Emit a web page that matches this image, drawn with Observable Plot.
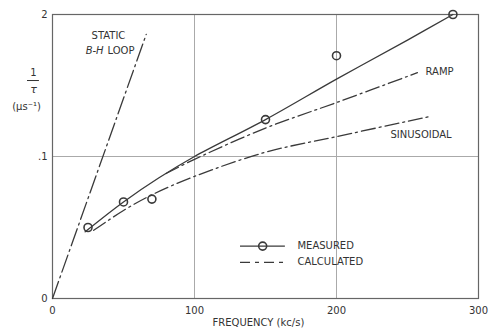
<!DOCTYPE html>
<html>
<head>
<meta charset="utf-8">
<script src="https://cdn.jsdelivr.net/npm/d3@7"></script>
<script src="https://cdn.jsdelivr.net/npm/@observablehq/plot@0.6"></script>
<style>
  html, body { margin: 0; padding: 0; background: #fff; }
  #chart svg { display: block; }
</style>
</head>
<body>
<div id="chart"></div>
<script>
// Measured points (frequency kc/s, 1/tau in µs^-1)
const measuredFreq = [25, 50, 70, 150, 200, 282];
const measuredVal  = [0.050, 0.068, 0.070, 0.126, 0.171, 0.200];

// Smooth curve drawn through measured points
const fitFreq = [23, 50, 75, 100, 150, 200, 250, 282];
const fitVal  = [0.047, 0.068, 0.085, 0.100, 0.126, 0.1545, 0.182, 0.200];

// Calculated: ramp
const rampFreq = [80, 100, 150, 200, 257];
const rampVal  = [0.088, 0.098, 0.120, 0.138, 0.159];

// Calculated: sinusoidal
const sinFreq = [29, 50, 70, 100, 150, 200, 265];
const sinVal  = [0.048, 0.062, 0.073, 0.086, 0.103, 0.114, 0.128];

// Calculated: static B-H loop
const staticFreq = [0, 66];
const staticVal  = [0, 0.186];

// Ticks
const xTicks = [0, 100, 200, 300];
const xTickLabels = ["0", "100", "200", "300"];
const yTicks = [0, 0.1, 0.2];
const yTickLabels = ["0", ".1", "2"];

const toPts = (xs, ys) => xs.map((x, i) => ({x, y: ys[i]}));
const measured = toPts(measuredFreq, measuredVal);
const fit = toPts(fitFreq, fitVal);
const ramp = toPts(rampFreq, rampVal);
const sinus = toPts(sinFreq, sinVal);
const stat = toPts(staticFreq, staticVal);

const ink = "#3a3a3a";
const dashDot = "14,4,2,4";
const font = "DejaVu Sans, sans-serif";

const chart = Plot.plot({
  width: 491,
  height: 331,
  marginLeft: 52,
  marginRight: 13,
  marginTop: 14,
  marginBottom: 33,
  style: {fontFamily: font, fontSize: "10px", color: "#333", background: "#fff", overflow: "visible"},
  x: {domain: [0, 300]},
  y: {domain: [0, 0.2]},
  marks: [
    Plot.gridX([100, 200], {stroke: "#aaa", strokeOpacity: 1, strokeWidth: 1}),
    Plot.gridY([0.1], {stroke: "#aaa", strokeOpacity: 1, strokeWidth: 1}),
    Plot.frame({stroke: "#666", strokeWidth: 1.2}),
    Plot.axisX({ticks: xTicks, tickSize: 0, tickPadding: 8, tickFormat: (d) => xTickLabels[xTicks.indexOf(d)], label: null, fontSize: 10}),
    Plot.axisY({ticks: yTicks, tickSize: 0, tickPadding: 5, tickFormat: (d) => yTickLabels[yTicks.indexOf(d)], label: null, fontSize: 10}),
    // measured
    Plot.line(fit, {x: "x", y: "y", stroke: ink, strokeWidth: 1.3, curve: "catmull-rom"}),
    Plot.dot(measured, {x: "x", y: "y", r: 4, stroke: ink, strokeWidth: 1.6, fill: "none"}),
    // calculated
    Plot.line(ramp, {x: "x", y: "y", stroke: ink, strokeWidth: 1.3, strokeDasharray: dashDot, curve: "catmull-rom"}),
    Plot.line(sinus, {x: "x", y: "y", stroke: ink, strokeWidth: 1.3, strokeDasharray: dashDot, curve: "catmull-rom"}),
    Plot.line(stat, {x: "x", y: "y", stroke: ink, strokeWidth: 1.3, strokeDasharray: "18,4,2,4"}),
    // curve labels
    Plot.text(["STATIC"], {x: 39.4, y: 0.185, text: (d) => d, textAnchor: "middle", fill: "#333"}),
    Plot.text(["B-H"], {x: 36, y: 0.1745, text: (d) => d, textAnchor: "end", fontStyle: "italic", fill: "#333"}),
    Plot.text(["LOOP"], {x: 38.7, y: 0.1745, text: (d) => d, textAnchor: "start", fill: "#333"}),
    Plot.text(["RAMP"], {x: 262.7, y: 0.1596, text: (d) => d, textAnchor: "start", fill: "#333"}),
    Plot.text(["SINUSOIDAL"], {x: 238, y: 0.1156, text: (d) => d, textAnchor: "start", fill: "#333"}),
    // legend
    Plot.ruleY([0.0369], {x1: 132.4, x2: 164, stroke: ink, strokeWidth: 1.3}),
    Plot.dot([{x: 148, y: 0.0369}], {x: "x", y: "y", r: 4, stroke: ink, strokeWidth: 1.6, fill: "none"}),
    Plot.text(["MEASURED"], {x: 172.5, y: 0.0369, text: (d) => d, textAnchor: "start", fill: "#333"}),
    Plot.ruleY([0.0255], {x1: 132.4, x2: 164, stroke: ink, strokeWidth: 1.3, strokeDasharray: "10,5,4,5"}),
    Plot.text(["CALCULATED"], {x: 172.5, y: 0.0255, text: (d) => d, textAnchor: "start", fill: "#333"}),
    // axis labels
    Plot.text(["FREQUENCY (kc/s)"], {x: 145, y: -0.0172, text: (d) => d, textAnchor: "middle", fill: "#333"}),
    Plot.text(["1"], {x: -13.4, y: 0.159, text: (d) => d, textAnchor: "middle", fill: "#333"}),
    Plot.ruleY([0.1535], {x1: -17.6, x2: -9.2, stroke: "#333", strokeWidth: 1}),
    Plot.text(["τ"], {x: -13.4, y: 0.1475, text: (d) => d, textAnchor: "middle", fontStyle: "italic", fill: "#333", fontSize: 11}),
    Plot.text(["(μs⁻¹)"], {x: -18.3, y: 0.1348, text: (d) => d, textAnchor: "middle", fill: "#333"})
  ]
});
document.getElementById("chart").appendChild(chart);
</script>
</body>
</html>
